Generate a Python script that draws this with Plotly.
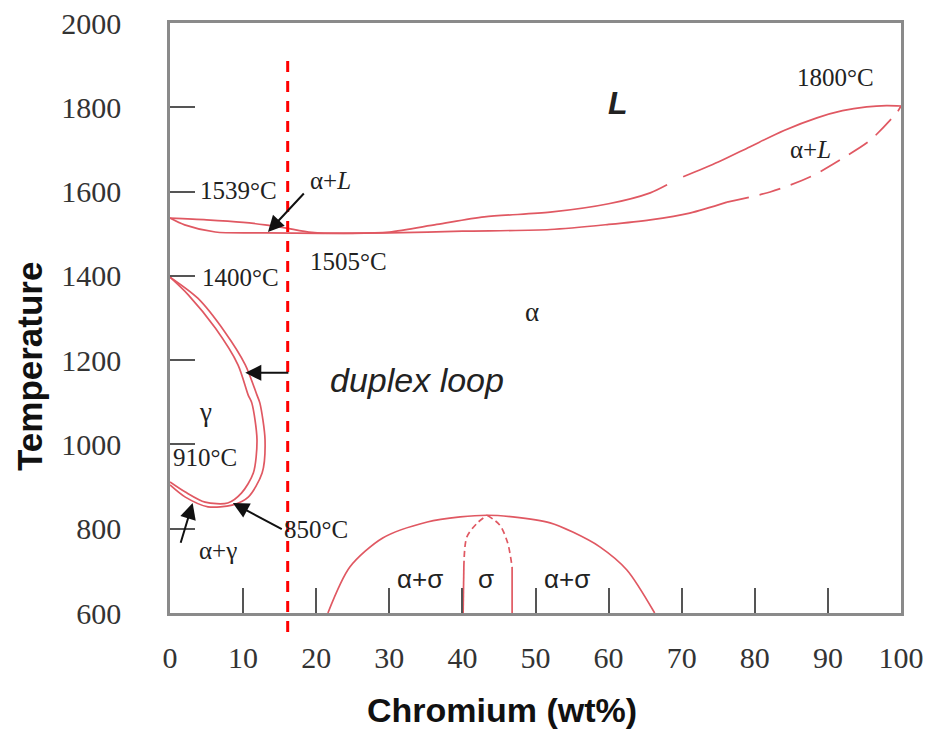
import plotly.graph_objects as go

# ---------------- data (Cr wt%, Temperature °C) ----------------
liq_x = [0, 5, 10, 13, 15.7, 19.4, 25, 30, 36.5, 43, 52, 60, 65.7, 68]
liq_T = [1537, 1533, 1527, 1521, 1514, 1503, 1501, 1504, 1522, 1540, 1551, 1571, 1597, 1616]
liq2_x = [70.2, 75, 79.3, 84, 88.5, 92, 95.3, 98, 100]
liq2_T = [1635, 1670, 1706, 1745, 1775, 1792, 1801, 1804, 1803]

sol_x = [0, 2, 6.2, 13, 21, 30, 40, 52, 60, 65.7, 71.1, 76.2]
sol_T = [1537, 1521, 1504, 1502, 1501, 1502, 1506, 1510, 1522, 1533, 1549, 1575]
sol2_x = [76.2, 82.1, 87.6, 92.1, 95.8, 99.5, 100]
sol2_T = [1575, 1599, 1635, 1680, 1722, 1789, 1803]

loop_out_x = [0, 3.8, 7.5, 10.3, 11.9, 12.3, 13.0, 12.6, 10.7, 8.5, 5.2, 2.1, 0]
loop_out_T = [1397, 1347, 1267, 1189, 1117, 1098, 1011, 932, 875, 856, 852, 875, 904]
loop_in_x = [0, 2.5, 6.2, 9.3, 10.7, 11.2, 11.9, 11.4, 9.8, 7.9, 4.8, 2.1, 0]
loop_in_T = [1397, 1355, 1276, 1189, 1117, 1098, 1011, 932, 885, 861, 863, 887, 911]

sig_out_x = [21.6, 24.6, 29.1, 35.2, 39.7, 43.4, 46.9, 52, 55.1, 58.8, 62.5, 66.3]
sig_out_T = [600, 709, 778, 816, 828, 832, 828, 814, 792, 757, 702, 600]
sig_l_solid_x = [40.1, 40.1, 40.2]
sig_l_solid_T = [600, 660, 709]
sig_l_dash_x = [40.2, 40.6, 42.0, 43.4]
sig_l_dash_T = [709, 780, 813, 832]
sig_r_dash_x = [43.4, 45.1, 46.2, 46.8]
sig_r_dash_T = [832, 809, 766, 709]
sig_r_solid_x = [46.8, 46.8]
sig_r_solid_T = [709, 600]

marker_cr = 16.1  # red dashed composition line

x_ticks = [0, 10, 20, 30, 40, 50, 60, 70, 80, 90, 100]
y_ticks = [600, 800, 1000, 1200, 1400, 1600, 1800, 2000]

# labels: (text, x, y, font, size)
labels = [
    ("<b><i>L</i></b>", 61.3, 1810, "Liberation Sans", 32),
    ("1800°C", 91.0, 1870, "Liberation Serif", 25),
    ("α+<i>L</i>", 87.6, 1699, "Liberation Serif", 25),
    ("1539°C", 9.4, 1602, "Liberation Serif", 25),
    ("α+<i>L</i>", 22.0, 1627, "Liberation Serif", 25),
    ("1505°C", 24.4, 1433, "Liberation Serif", 25),
    ("1400°C", 9.6, 1395, "Liberation Serif", 25),
    ("α", 49.5, 1314, "Liberation Serif", 27),
    ("<i>duplex loop</i>", 33.8, 1153, "Liberation Sans", 34),
    ("γ", 4.8, 1077, "Liberation Serif", 27),
    ("910°C", 4.8, 968, "Liberation Serif", 25),
    ("α+γ", 6.6, 748, "Liberation Serif", 25),
    ("850°C", 20.0, 797, "Liberation Serif", 25),
    ("α+σ", 34.2, 681, "Liberation Sans", 26),
    ("σ", 43.2, 680, "Liberation Sans", 26),
    ("α+σ", 54.3, 681, "Liberation Sans", 26),
]
# arrows: (head_x, head_T, tail_x, tail_T)
arrows = [
    (13.4, 1504, 18.5, 1599),
    (10.3, 1170, 16.4, 1170),
    (3.1, 861, 1.4, 763),
    (8.6, 861, 15.5, 797),
]

# ---------------- figure ----------------
RED = "rgb(224,88,98)"
fig = go.Figure()

def curve(x, y, dash="solid", shape="spline"):
    line = dict(color=RED, width=1.7, dash=dash, shape=shape)
    if shape == "spline":
        line["smoothing"] = 0.8
    fig.add_trace(go.Scatter(x=x, y=y, mode="lines", line=line, hoverinfo="skip", showlegend=False))

curve(liq_x, liq_T)
curve(liq2_x, liq2_T)
curve(sol_x, sol_T)
curve(sol2_x, sol2_T, dash="22px,11px")
curve(loop_out_x, loop_out_T)
curve(loop_in_x, loop_in_T)
curve(sig_out_x, sig_out_T)
curve(sig_l_solid_x, sig_l_solid_T, shape="linear")
curve(sig_l_dash_x, sig_l_dash_T, dash="6px,4px")
curve(sig_r_dash_x, sig_r_dash_T, dash="6px,4px")
curve(sig_r_solid_x, sig_r_solid_T, shape="linear")

fig.add_shape(type="line", xref="x", yref="paper", x0=marker_cr, x1=marker_cr, y0=-0.032, y1=0.937,
              line=dict(color="rgb(255,0,0)", width=3, dash="11px,9px"), layer="above")

for t, x, y, fam, sz in labels:
    fig.add_annotation(x=x, y=y, text=t, showarrow=False, font=dict(family=fam, size=sz, color="#222"))
for hx, hy, tx, ty in arrows:
    fig.add_annotation(x=hx, y=hy, ax=tx, ay=ty, axref="x", ayref="y", text="", showarrow=True,
                       arrowhead=2, arrowsize=1.6, arrowwidth=2, arrowcolor="#111", standoff=0)

# axis titles (placed to match the original's off-centre positions)
fig.add_annotation(xref="paper", yref="paper", x=-0.1915, y=0.417, xanchor="center", yanchor="middle",
                   text="<b>Temperature</b>", textangle=-90, showarrow=False,
                   font=dict(family="Liberation Sans", size=35, color="#111"))
fig.add_annotation(xref="paper", yref="paper", x=0.454, y=-0.164, xanchor="center", yanchor="middle",
                   text="<b>Chromium (wt%)</b>", showarrow=False,
                   font=dict(family="Liberation Sans", size=34, color="#111"))

axis_common = dict(showgrid=False, zeroline=False, showline=True, linecolor="#8a8a8a", linewidth=2.5,
                   mirror=True, ticks="inside", ticklen=25, tickwidth=1.5, tickcolor="#555",
                   tickfont=dict(family="Liberation Serif", size=30, color="#333"))
fig.update_xaxes(range=[0, 100], tickvals=x_ticks, ticktext=[str(v) for v in x_ticks],
                 ticklabelstandoff=16, **axis_common)
fig.update_yaxes(range=[600, 2000], tickvals=y_ticks, ticktext=[str(v) for v in y_ticks],
                 ticklabelstandoff=40, **axis_common)
fig.update_layout(width=931, height=729, margin=dict(l=170, r=30, t=23, b=116, autoexpand=False),
                  plot_bgcolor="white", paper_bgcolor="white")
fig.write_html("out.html")
